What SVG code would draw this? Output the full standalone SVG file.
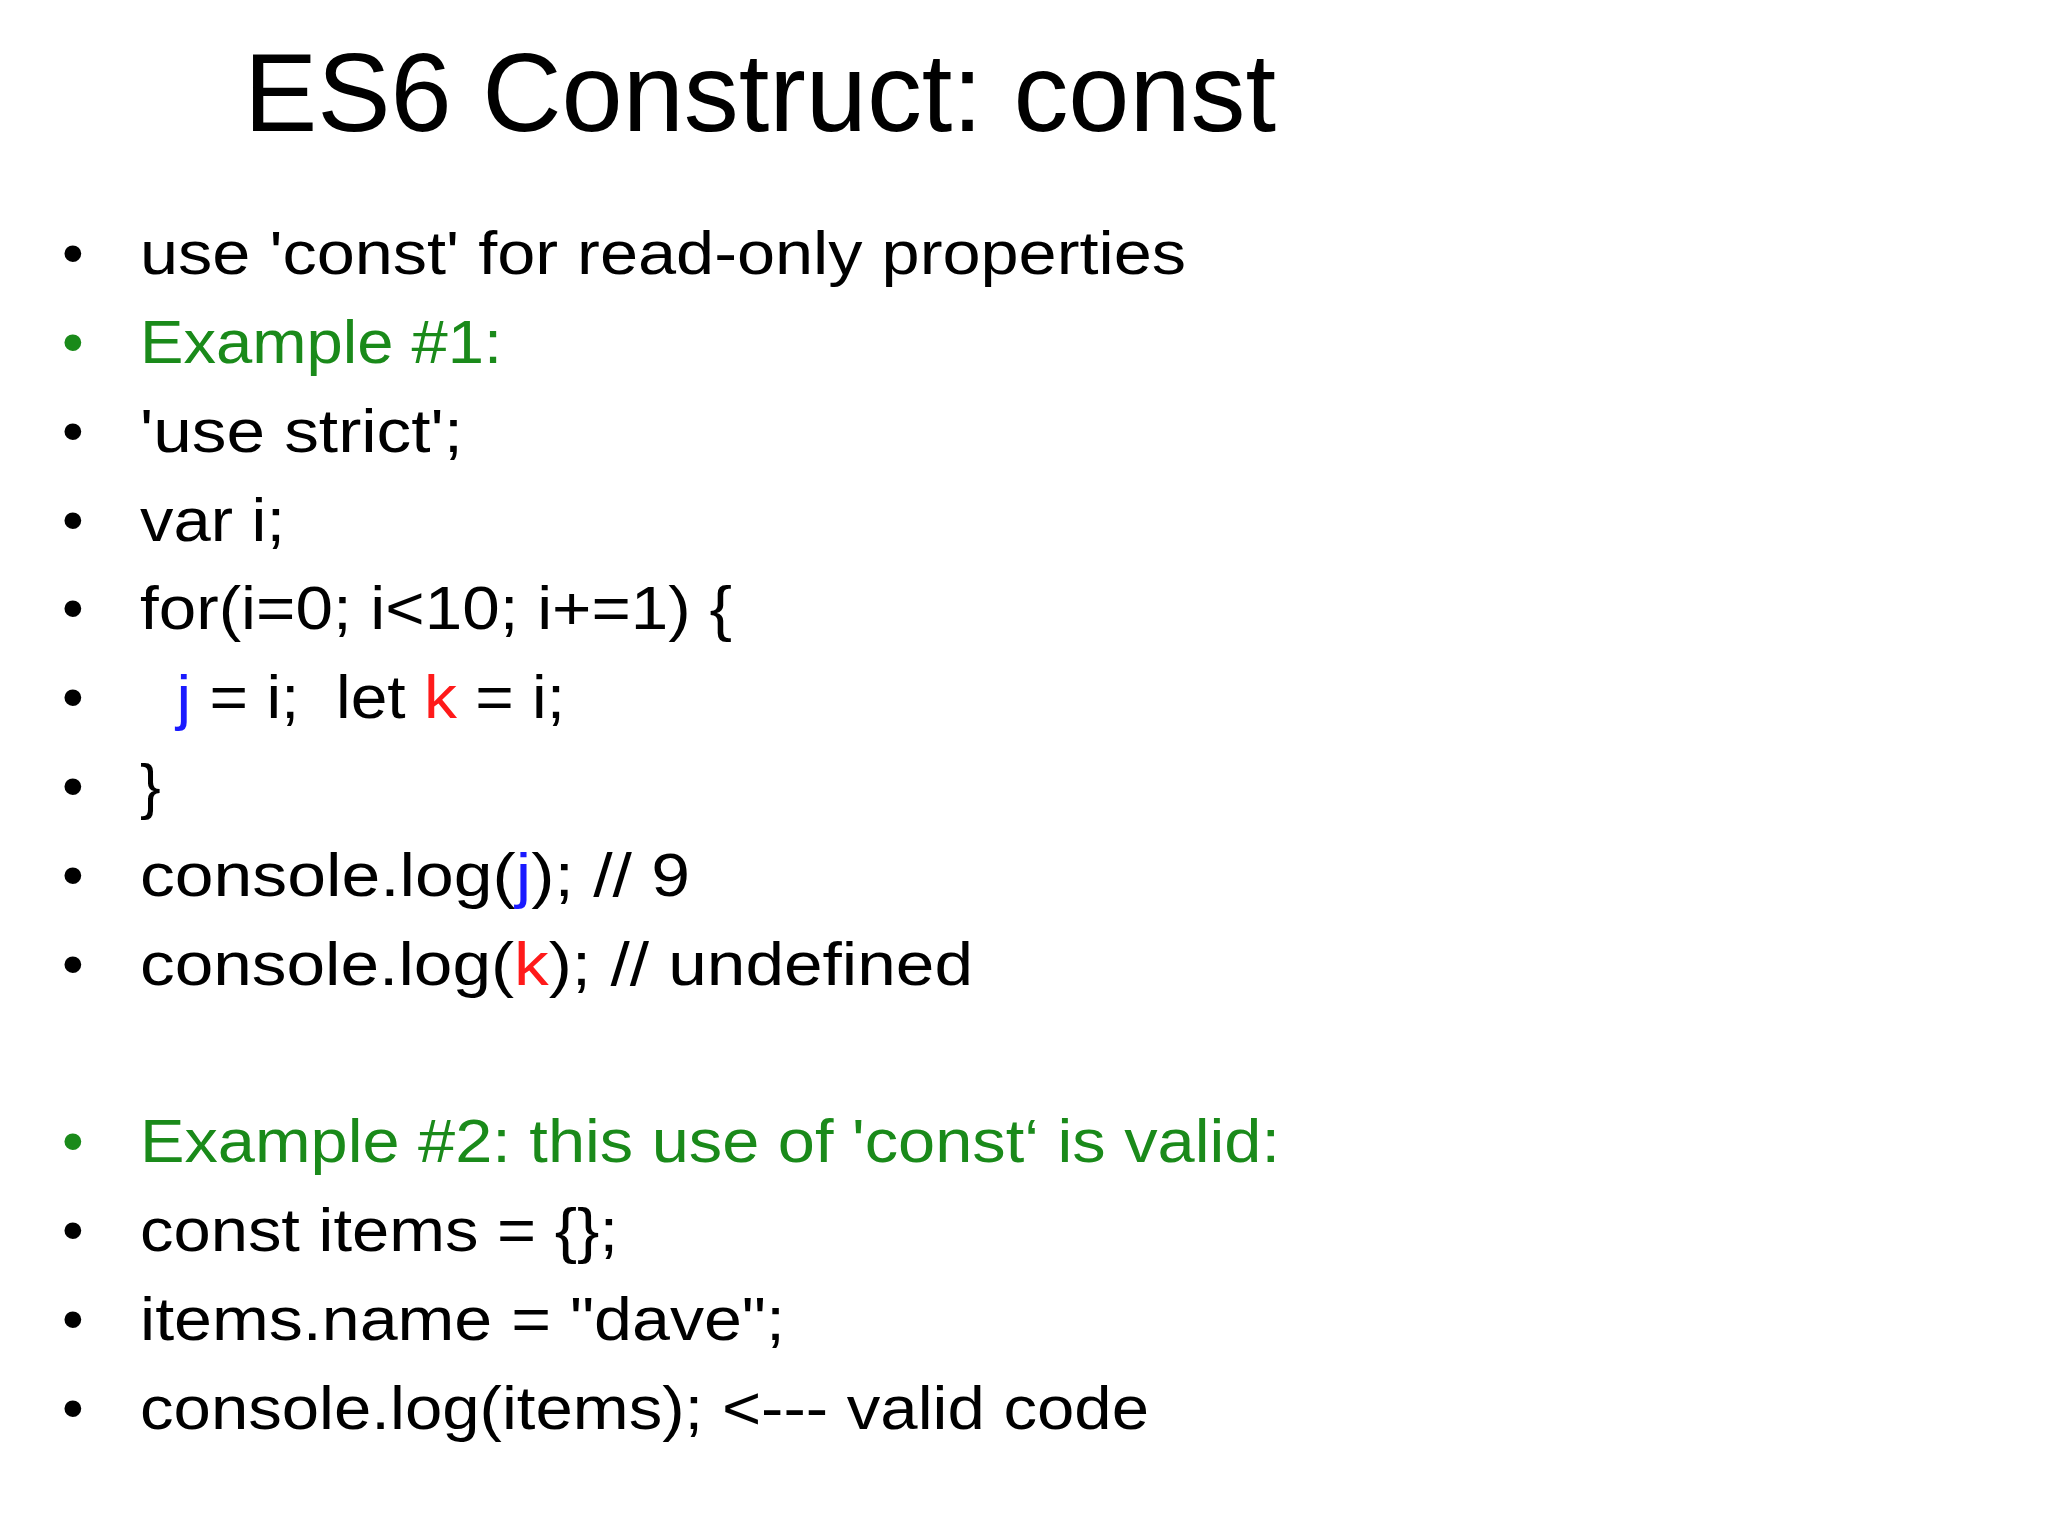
<svg xmlns="http://www.w3.org/2000/svg" width="2048" height="1536" viewBox="0 0 2048 1536">
<style>
text{font-family:"Liberation Sans","Open Sans",sans-serif;fill:#000}
.b{font-size:62px}
.g{fill:#1a8a1a}
.bl{fill:#1a1aff}
.r{fill:#ff1a1a}
.t{font-size:112px}
</style>
<rect width="2048" height="1536" fill="#fff"/>
<text class="t" x="244" y="131" textLength="1032" lengthAdjust="spacingAndGlyphs">ES6 Construct: const</text>
<g id="bullets" class="b">
<text x="62" y="274">•</text>
<text x="62" y="363" class="g">•</text>
<text x="62" y="452">•</text>
<text x="62" y="541">•</text>
<text x="62" y="629">•</text>
<text x="62" y="718">•</text>
<text x="62" y="807">•</text>
<text x="62" y="896">•</text>
<text x="62" y="985">•</text>
<text x="62" y="1162" class="g">•</text>
<text x="62" y="1251">•</text>
<text x="62" y="1340">•</text>
<text x="62" y="1429">•</text>
</g>
<g id="lines" class="b">
<text x="140" y="274" textLength="1046" lengthAdjust="spacingAndGlyphs">use 'const' for read-only properties</text>
<text x="140" y="363" class="g" textLength="362" lengthAdjust="spacingAndGlyphs">Example #1:</text>
<text x="140" y="452" textLength="323" lengthAdjust="spacingAndGlyphs">'use strict';</text>
<text x="140" y="541" textLength="145" lengthAdjust="spacingAndGlyphs">var i;</text>
<text x="140" y="629" textLength="592" lengthAdjust="spacingAndGlyphs">for(i=0; i&lt;10; i+=1) {</text>
<text x="140" y="718" xml:space="preserve" textLength="425" lengthAdjust="spacingAndGlyphs">  <tspan class="bl">j</tspan> = i;  let <tspan class="r">k</tspan> = i;</text>
<text x="140" y="807">}</text>
<text x="140" y="896" textLength="550" lengthAdjust="spacingAndGlyphs">console.log(<tspan class="bl">j</tspan>); // 9</text>
<text x="140" y="985" textLength="833" lengthAdjust="spacingAndGlyphs">console.log(<tspan class="r">k</tspan>); // undefined</text>
<text x="140" y="1162" class="g" textLength="1140" lengthAdjust="spacingAndGlyphs">Example #2: this use of 'const‘ is valid:</text>
<text x="140" y="1251" textLength="478" lengthAdjust="spacingAndGlyphs">const items = {};</text>
<text x="140" y="1340" textLength="645" lengthAdjust="spacingAndGlyphs">items.name = "dave";</text>
<text x="140" y="1429" textLength="1009" lengthAdjust="spacingAndGlyphs">console.log(items); &lt;--- valid code</text>
</g>
</svg>
